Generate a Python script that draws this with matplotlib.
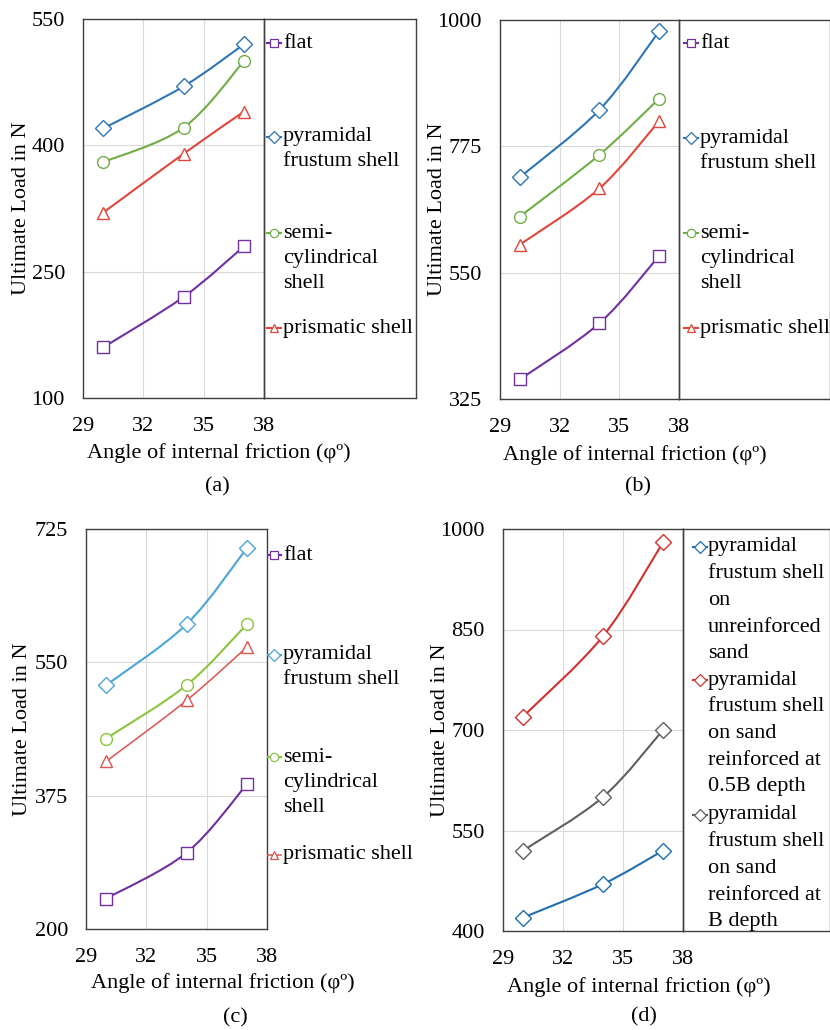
import matplotlib
matplotlib.use('Agg')
import matplotlib.pyplot as plt
from matplotlib.path import Path
from matplotlib.patches import PathPatch
from matplotlib.lines import Line2D

plt.rcParams['font.family'] = ['Liberation Serif', 'DejaVu Serif']
FS = 16

W, H = 830, 1030
angles = [30, 34, 37]

# (a)
a_flat = [160, 220, 280]
a_pyramidal = [420, 470, 520]
a_semi = [380, 421, 500]
a_prismatic = [320, 390, 440]
# (b)
b_flat = [360, 460, 580]
b_pyramidal = [720, 840, 980]
b_semi = [650, 760, 860]
b_prismatic = [600, 700, 820]
# (c)
c_flat = [240, 300, 390]
c_pyramidal = [520, 600, 700]
c_semi = [450, 520, 600]
c_prismatic = [420, 500, 570]
# (d)
d_unreinforced = [420, 470, 520]
d_half_b = [720, 840, 980]
d_full_b = [520, 600, 700]

labels_shell = ['flat', 'pyramidal\nfrustum shell', 'semi-\ncylindrical\nshell', 'prismatic shell']
labels_d = ['pyramidal\nfrustum shell\non\nunreinforced\nsand',
            'pyramidal\nfrustum shell\non sand\nreinforced at\n0.5B depth',
            'pyramidal\nfrustum shell\non sand\nreinforced at\nB depth']

x_ticks = [29, 32, 35, 38]
a_yticks = [100, 250, 400, 550]
b_yticks = [325, 550, 775, 1000]
c_yticks = [200, 375, 550, 725]
d_yticks = [400, 550, 700, 850, 1000]


def frac(x0, y0, x1, y1):
    return [x0 / W, 1 - y1 / H, (x1 - x0) / W, (y1 - y0) / H]


def smooth_path(xs, ys):
    # Excel style smoothed line: bezier segments through the points
    pts = list(zip(xs, ys))
    n = len(pts)
    verts = [pts[0]]
    codes = [Path.MOVETO]
    for i in range(n - 1):
        p0 = pts[max(i - 1, 0)]
        p1 = pts[i]
        p2 = pts[i + 1]
        p3 = pts[min(i + 2, n - 1)]
        c1 = (p1[0] + (p2[0] - p0[0]) / 6, p1[1] + (p2[1] - p0[1]) / 6)
        c2 = (p2[0] - (p3[0] - p1[0]) / 6, p2[1] - (p3[1] - p1[1]) / 6)
        verts += [c1, c2, p2]
        codes += [Path.CURVE4] * 3
    return Path(verts, codes)


def panel(box, legbox, yticks, series, labels, leg_rows, mark_x, text_x, spacing,
          ylabel_x, xlabel_xy, caption_xy, legend_frame=True):
    ax = fig.add_axes(frac(*box))
    ax.set_xlim(x_ticks[0], x_ticks[-1])
    ax.set_ylim(yticks[0], yticks[-1])
    ax.set_xticks(x_ticks)
    ax.set_yticks(yticks)
    ax.tick_params(length=0, labelsize=FS, pad=14)
    ax.tick_params(axis='y', pad=13)
    ax.grid(color='#d9d9d9', lw=0.8)
    ax.set_axisbelow(True)
    for s in ax.spines.values():
        s.set_color('#404040')
        s.set_linewidth(1.0)
    for vals, color, marker, lw in series:
        ax.add_patch(PathPatch(smooth_path(angles, vals), fill=False, edgecolor=color,
                               lw=lw, zorder=3))
        ax.plot(angles, vals, ls='none', marker=marker, ms=8.5, mfc='white',
                mec=color, mew=1.0, zorder=4)

    # legend box
    lx0, ly0, lx1, ly1 = legbox
    lg = fig.add_axes(frac(*legbox))
    lg.set_xlim(0, lx1 - lx0)
    lg.set_ylim(ly1 - ly0, 0)
    lg.set_xticks([])
    lg.set_yticks([])
    for s in lg.spines.values():
        s.set_visible(legend_frame)
        s.set_color('#404040')
        s.set_linewidth(1.0)
    lg.patch.set_alpha(0)
    for (vals, color, marker, lw), lab, ry in zip(series, labels, leg_rows):
        lg.add_line(Line2D([mark_x - 7, mark_x + 7], [ry, ry], color=color, lw=lw))
        lg.plot([mark_x], [ry], ls='none', marker=marker, ms=6, mfc='white',
                mec=color, mew=0.9)
        for k, line in enumerate(lab.split('\n')):
            lg.text(text_x, ry + k * spacing, line, fontsize=FS, va='center',
                    ha='left', clip_on=False)

    cy = (box[1] + box[3]) / 2
    fig.text(ylabel_x / W, 1 - cy / H, 'Ultimate Load in N', rotation=90,
             ha='center', va='center', fontsize=FS)
    fig.text(xlabel_xy[0] / W, 1 - xlabel_xy[1] / H, 'Angle of internal friction (φº)',
             ha='center', va='center', fontsize=FS)
    fig.text(caption_xy[0] / W, 1 - caption_xy[1] / H, caption_xy[2],
             ha='center', va='center', fontsize=FS)


fig = plt.figure(figsize=(W / 100, H / 100), dpi=100)

PURPLE = '#7030a0'
BLUE = '#2e75b6'
GREEN = '#70ad47'
RED = '#e0463a'

panel((83, 19, 264, 398), (264, 19, 416, 398), a_yticks,
      [(a_flat, PURPLE, 's', 1.5), (a_pyramidal, BLUE, 'D', 1.5),
       (a_semi, GREEN, 'o', 1.5), (a_prismatic, RED, '^', 1.5)],
      labels_shell, [24, 118, 214, 309], 10, 19, 25,
      22, (219, 453), (217, 487, '(a)'))

panel((500, 20, 679, 399), (679, 20, 830, 399), b_yticks,
      [(b_flat, PURPLE, 's', 1.5), (b_pyramidal, BLUE, 'D', 1.5),
       (b_semi, GREEN, 'o', 1.5), (b_prismatic, RED, '^', 1.5)],
      labels_shell, [23, 118, 213, 308], 12, 21, 25,
      437, (635, 455), (638, 487, '(b)'))

panel((86, 529, 267, 929), (267, 529, 415, 929), c_yticks,
      [(c_flat, PURPLE, 's', 1.5), (c_pyramidal, '#4ba5d5', 'D', 1.5),
       (c_semi, '#8cc43f', 'o', 1.5), (c_prismatic, '#d9534f', '^', 1.1)],
      labels_shell, [26, 126, 228, 326], 7, 16, 25,
      23, (223, 983), (235, 1018, '(c)'), legend_frame=False)

panel((503, 529, 683, 931), (683, 529, 830, 931), d_yticks,
      [(d_unreinforced, '#1f6fb0', 'D', 1.5), (d_half_b, '#d0312d', 'D', 1.5),
       (d_full_b, '#5f5f5f', 'D', 1.5)],
      labels_d, [18, 151, 286], 17, 25, 26.7,
      440, (639, 987), (644, 1017, '(d)'))

fig.savefig('out.png', dpi=100)
